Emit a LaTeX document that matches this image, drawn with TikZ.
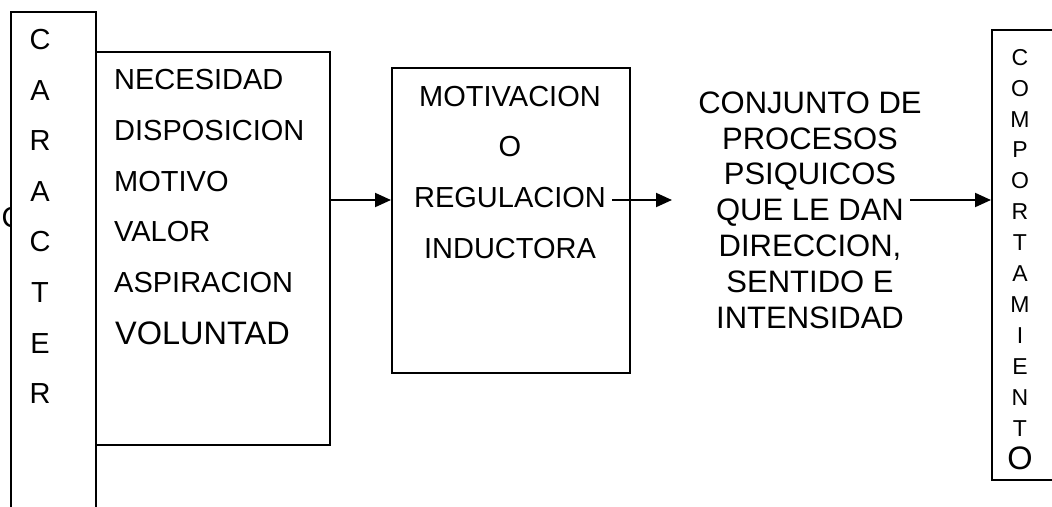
\documentclass[tikz,border=0pt]{standalone}
\usepackage{fontspec}
\setmainfont{Liberation Sans}
\usetikzlibrary{arrows.meta}
\begin{document}
\begin{tikzpicture}[x=1pt,y=-1pt]
\tikzset{
  box/.style={draw, line width=1.8pt, fill=white, inner sep=0pt, anchor=north west},
  big/.style={font=\fontsize{29}{34}\selectfont, inner sep=0pt},
  bigger/.style={font=\fontsize{32.5}{38}\selectfont, inner sep=0pt},
  mid/.style={font=\fontsize{31}{36}\selectfont, inner sep=0pt, anchor=base},
  small/.style={font=\fontsize{23}{27}\selectfont, inner sep=0pt, anchor=base},
  arr/.style={line width=2pt, -{Triangle[length=16pt,width=14pt]}}
}
\useasboundingbox (0,0) rectangle (1052,506);
\clip (0,0) rectangle (1052,506);
% partly hidden letter behind the CARACTER column
\node[big, anchor=base west] (frag) at (1.5,227.4) {C};
% boxes
\node[box, minimum width=85pt, minimum height=540pt] (car) at (10,11) {};
\node[box, minimum width=234pt, minimum height=393pt] (box2) at (95,51) {};
\node[box, minimum width=238pt, minimum height=305pt] (box3) at (391,67) {};
\node[box, minimum width=100pt, minimum height=450pt] (box4) at (991,29) {};
% CARACTER
\foreach \l [count=\i from 0] in {C,A,R,A,C,T,E,R}
  \node[big, anchor=base] (car\i) at (40,49.5+50.6*\i) {\l};
% box 2 list
\node[big, anchor=base west] (n1) at (114,89.4) {NECESIDAD};
\node[big, anchor=base west] (n2) at (114,140.2) {DISPOSICION};
\node[big, anchor=base west] (n3) at (114,191.4) {MOTIVO};
\node[big, anchor=base west] (n4) at (114,241.6) {VALOR};
\node[big, anchor=base west] (n5) at (114,292.6) {ASPIRACION};
\node[bigger, anchor=base west] (n6) at (115,344.6) {VOLUNTAD};
% box 3
\node[big, anchor=base] (m1) at (510,106.4) {MOTIVACION};
\node[big, anchor=base] (m2) at (510,156.6) {O};
\node[big, anchor=base] (m3) at (510,207.4) {REGULACION};
\node[big, anchor=base] (m4) at (510,258.4) {INDUCTORA};
% conjunto
\node[mid] (c1) at (810,113.1) {CONJUNTO DE};
\node[mid] (c2) at (810,149.0) {PROCESOS};
\node[mid] (c3) at (810,184.9) {PSIQUICOS};
\node[mid] (c4) at (810,220.8) {QUE LE DAN};
\node[mid] (c5) at (810,256.7) {DIRECCION,};
\node[mid] (c6) at (810,292.6) {SENTIDO E};
\node[mid] (c7) at (810,328.5) {INTENSIDAD};
% COMPORTAMIENTO
\foreach \l [count=\i from 0] in {C,O,M,P,O,R,T,A,M,I,E,N,T}
  \node[small] (co\i) at (1020,65.2+30.9*\i) {\l};
\node[bigger, anchor=base] (co13) at (1020,469.5) {O};
% connectors
\coordinate (ylev) at (0,200);
\coordinate (s2) at (612,200);
\coordinate (e2) at (672,200);
\coordinate (s3) at (910,200);
\draw[arr] (box2.east |- ylev) -- (box3.west |- ylev);
\draw[arr] (s2) -- (e2);
\draw[arr] (s3) -- (box4.west |- ylev);
\end{tikzpicture}
\end{document}
